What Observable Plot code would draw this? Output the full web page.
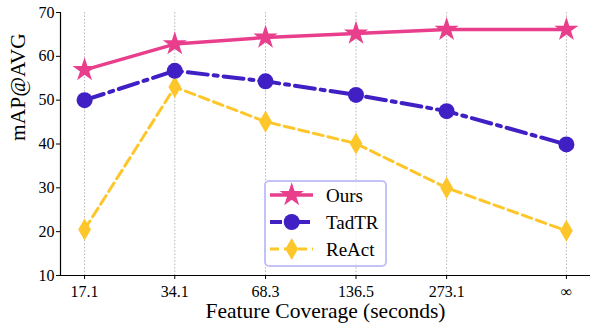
<!DOCTYPE html>
<html><head><meta charset="utf-8">
<script src="https://cdn.jsdelivr.net/npm/d3@7"></script>
<script src="https://cdn.jsdelivr.net/npm/@observablehq/plot@0.6"></script>
<style>
body{margin:0;background:#fff;}
#wrap{position:relative;width:592px;height:324px;font-family:"Liberation Serif","Times New Roman",serif;}
#legend{position:absolute;left:264px;top:180px;width:123px;height:87px;box-sizing:border-box;border:2px solid rgba(175,175,245,0.75);border-radius:5px;background:rgba(255,255,255,0.8);}
#legend svg{display:block;}
</style></head><body><div id="wrap"><div id="legend"></div></div>
<script>
// ---- data ----
const xLabels = ["17.1", "34.1", "68.3", "136.5", "273.1", "∞"];
const xValues = [17.1, 34.1, 68.3, 136.5, 273.1, 683]; // "∞" stands a bit beyond the doubling spacing
const seriesNames = ["Ours", "TadTR", "ReAct"];
const oursValues  = [56.9, 62.8, 64.3, 65.2, 66.1, 66.1];
const tadtrValues = [50.0, 56.7, 54.3, 51.2, 47.5, 39.9];
const reactValues = [20.5, 53.0, 45.1, 40.1, 30.0, 20.2];
const yTicks = [10, 20, 30, 40, 50, 60, 70];
const xLabelText = "Feature Coverage (seconds)";
const yLabelText = "mAP@AVG";

// ---- styles ----
const styles = {
  Ours:  {color: "#e83e8c", symbol: "star",    r: 7.6, width: 3.5, dash: null},
  TadTR: {color: "#4020c4", symbol: "circle",  r: 8,   width: 4,   dash: "20,6,4,6"},
  ReAct: {color: "#fdc62b", symbol: "diamond", r: 6.7, width: 3,   dash: "10,5"}
};
const valuesBySeries = {Ours: oursValues, TadTR: tadtrValues, ReAct: reactValues};
const rows = seriesNames.flatMap(s => valuesBySeries[s].map((v, i) => ({series: s, x: xValues[i], y: v})));
const labelMap = new Map(xValues.map((v, i) => [v, xLabels[i]]));

const lo = Math.log2(d3.min(xValues)), hi = Math.log2(d3.max(xValues)), pad = (hi - lo) * 0.05;
const xDomain = [2 ** (lo - pad), 2 ** (hi + pad)];

const drawOrder = ["ReAct", "TadTR", "Ours"];
const seriesMarks = drawOrder.flatMap(s => {
  const st = styles[s];
  const d = rows.filter(r => r.series === s);
  return [
    Plot.line(d, {x: "x", y: "y", stroke: st.color, strokeWidth: st.width, strokeDasharray: st.dash, strokeLinejoin: "round"}),
    Plot.dot(d, {x: "x", y: "y", symbol: st.symbol, r: st.r, fill: st.color, stroke: "none"})
  ];
});

const chart = Plot.plot({
  width: 592, height: 324,
  marginLeft: 60, marginRight: 2, marginTop: 12, marginBottom: 49,
  style: {fontFamily: "'Liberation Serif','Times New Roman',serif", fontSize: "16px", background: "white", color: "black"},
  x: {type: "log", base: 2, domain: xDomain},
  y: {domain: [10, 70]},
  marks: [
    Plot.ruleX(xValues, {stroke: "#b0b0b0", strokeWidth: 0.9, strokeDasharray: "1.6,1.8"}),
    ...seriesMarks,
    Plot.ruleX([xDomain[0]], {stroke: "black", strokeWidth: 1.2}),
    Plot.ruleY([10], {stroke: "black", strokeWidth: 1.2}),
    Plot.axisY(yTicks, {tickSize: 4, tickPadding: 2, label: null, fontSize: 16}),
    Plot.axisX(xValues, {tickSize: 4, tickPadding: 6, label: null, fontSize: 16, tickFormat: d => labelMap.get(d)}),
    Plot.text([xLabelText], {text: d => d, frameAnchor: "bottom", dy: 36, fontSize: 21.5, lineAnchor: "middle"}),
    Plot.text([yLabelText], {text: d => d, frameAnchor: "left", dx: -42, dy: -3, rotate: -90, fontSize: 21.5, lineAnchor: "middle"})
  ]
});
document.getElementById("wrap").prepend(chart);
chart.style.display = "block";

// ---- legend ----
const lg = d3.select("#legend").append("svg").attr("width", 119).attr("height", 83);
seriesNames.forEach((s, i) => {
  const st = styles[s];
  const cy = 13 + i * 27;
  lg.append("line").attr("x1", 4).attr("x2", 47).attr("y1", cy).attr("y2", cy)
    .attr("stroke", st.color).attr("stroke-width", st.width)
    .attr("stroke-dasharray", st.dash === "20,6,4,6" ? "12,6,4,6" : st.dash === "10,5" ? "9,5" : null);
  const sym = {star: d3.symbolStar, circle: d3.symbolCircle, diamond: d3.symbolDiamond}[st.symbol];
  lg.append("path").attr("d", d3.symbol(sym, Math.PI * st.r * st.r)())
    .attr("transform", `translate(25.7,${cy})`).attr("fill", st.color);
  lg.append("text").attr("x", 60).attr("y", cy).attr("dy", "0.35em")
    .attr("font-size", 19).attr("font-family", "'Liberation Serif','Times New Roman',serif").text(s);
});
</script></body></html>
